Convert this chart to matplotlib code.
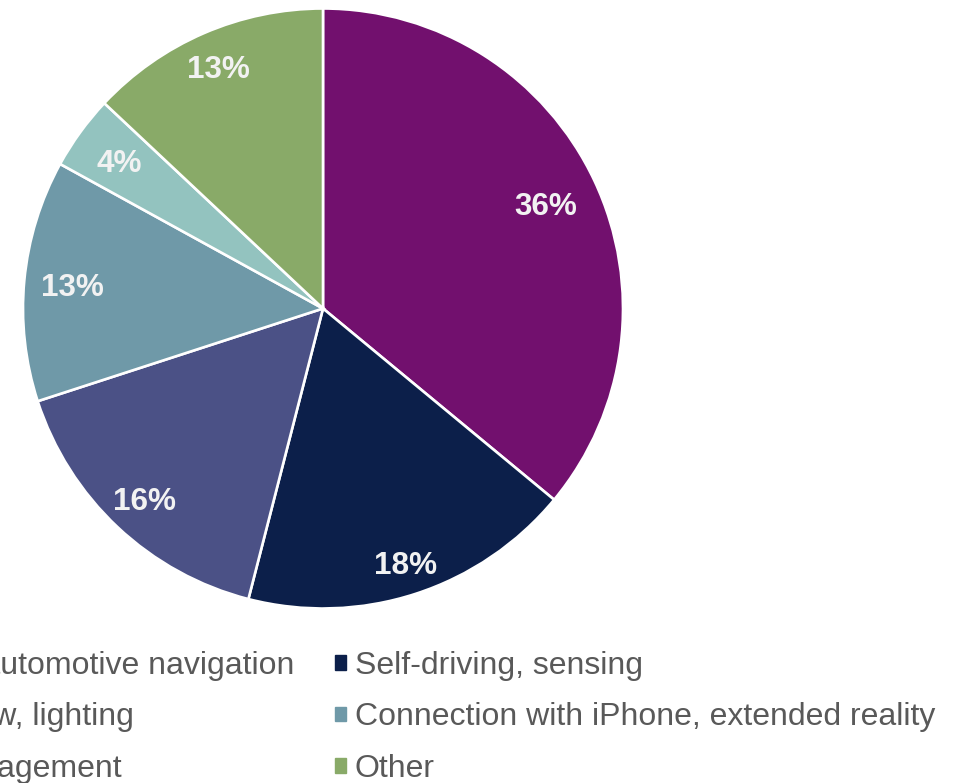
import numpy as np
import matplotlib
matplotlib.use("Agg")
import matplotlib.pyplot as plt

# data
categories = ["Dashboard, automotive navigation", "Self-driving, sensing",
              "Cabin, window, lighting", "Connection with iPhone, extended reality",
              "Thermal management", "Other"]
shares = [36, 18, 16, 13, 4, 13]
colors = ["#72106E", "#0C1F4A", "#4B5186", "#6F99A8", "#93C3BF", "#89AA68"]
# how far out each percentage sits (fraction of radius)
label_r = [0.82, 0.89, 0.87, 0.84, 0.84, 0.88]

plt.rcParams["font.family"] = ["Liberation Sans", "DejaVu Sans"]

W, H = 956, 783
fig = plt.figure(figsize=(W / 100, H / 100), dpi=100)

# pie: centre (323, 308.5) px, radius 300 px
cx, cy, r = 323, 308.5, 300
ax = fig.add_axes([(cx - r) / W, (H - cy - r) / H, 2 * r / W, 2 * r / H])
wedges, texts, autotexts = ax.pie(
    shares, colors=colors, startangle=90, counterclock=False,
    autopct=lambda p: f"{p:.0f}%", pctdistance=0.85,
    wedgeprops=dict(edgecolor="white", linewidth=1.9),
    textprops=dict(color="#F2F2F2", fontsize=22.7, fontweight="bold"))
for w, t, d in zip(wedges, autotexts, label_r):
    ang = np.deg2rad((w.theta1 + w.theta2) / 2)
    t.set_position((d * np.cos(ang), d * np.sin(ang)))
    t.set_va("center_baseline")
ax.set_xlim(-1, 1)
ax.set_ylim(-1, 1)
ax.set_aspect("auto")
ax.axis("off")

# legend, two columns filled row by row; left column runs off the left edge
order = [0, 2, 4, 1, 3, 5]
handles = [plt.Rectangle((0, 0), 1, 1, color=colors[i]) for i in order]
labels = [categories[i] for i in order]
leg = fig.legend(handles, labels, ncol=2, loc="upper left",
                 bbox_to_anchor=(-211 / W, 1 - 651 / H),
                 frameon=False, fontsize=23, borderpad=0, borderaxespad=0,
                 handlelength=0.32, handleheight=0.32, handletextpad=0.29,
                 columnspacing=1.27, labelspacing=0.67, labelcolor="#595959")

fig.savefig("out.png", dpi=100, facecolor="white")
